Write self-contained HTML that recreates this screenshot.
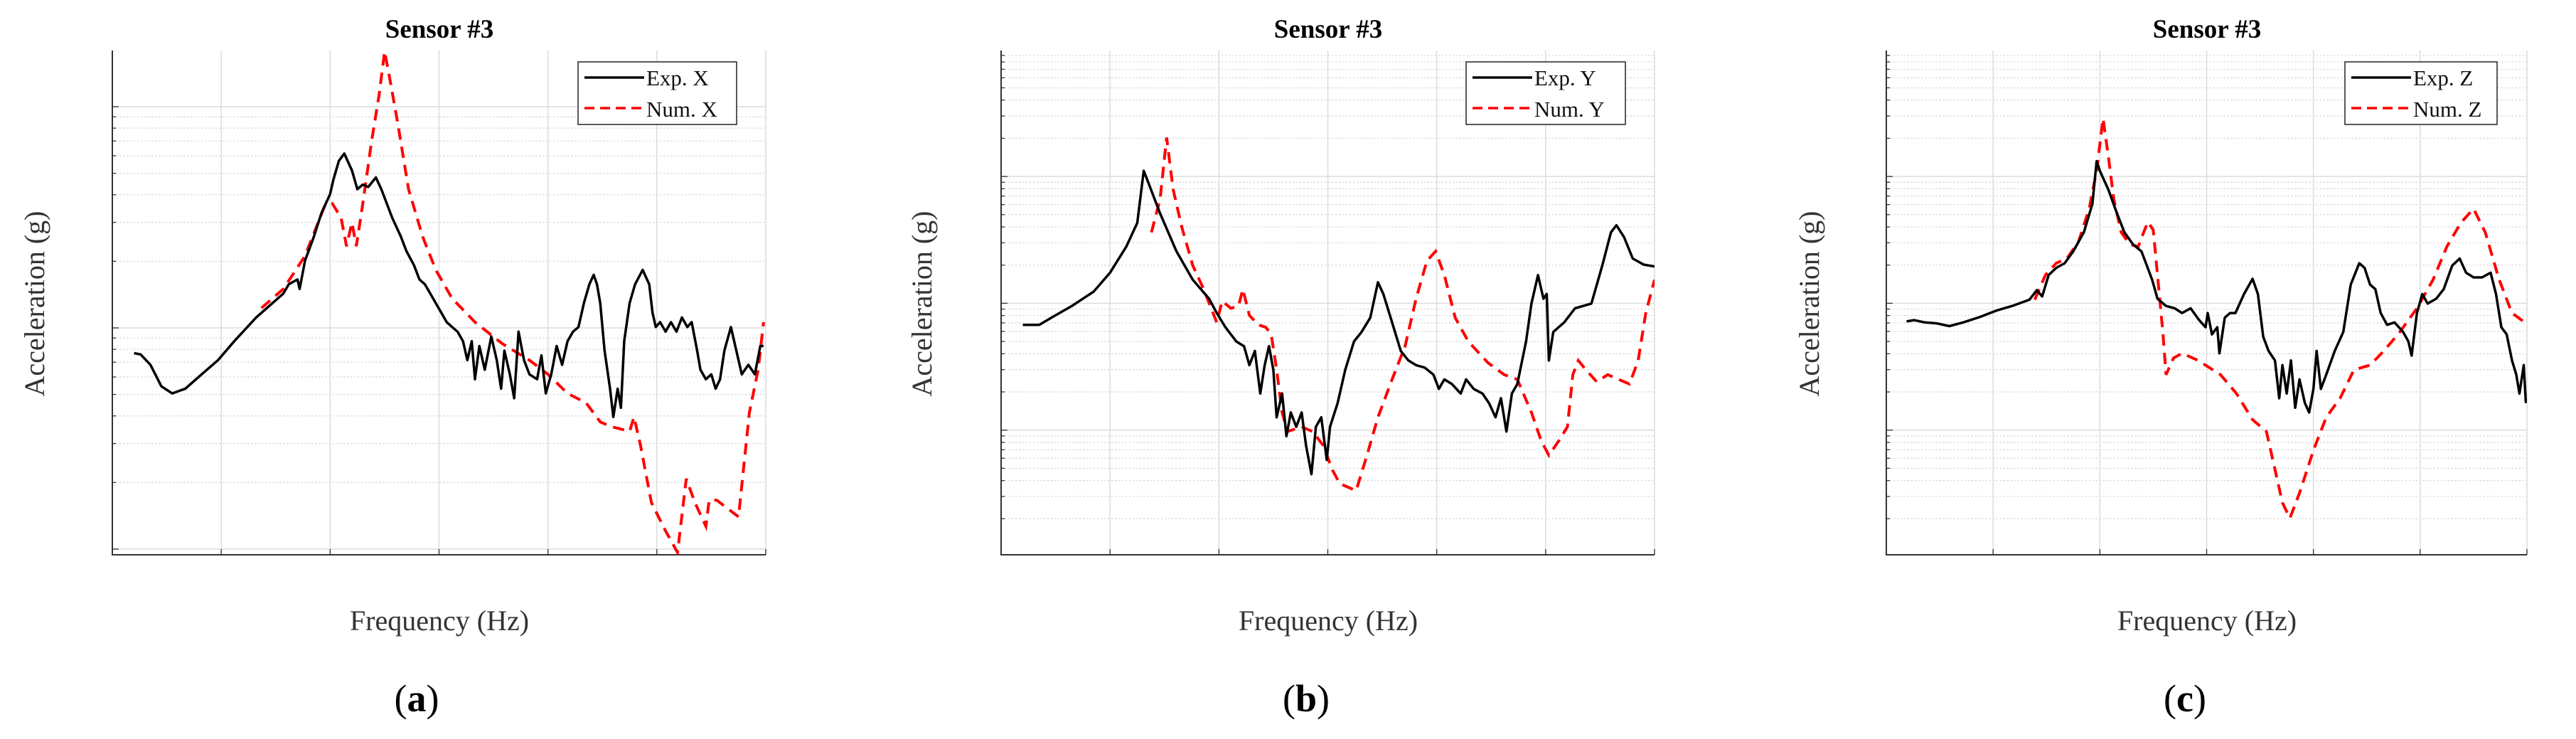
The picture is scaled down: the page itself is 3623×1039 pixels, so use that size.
<!DOCTYPE html>
<html><head><meta charset="utf-8"><style>
html,body{margin:0;padding:0;background:#fff;}
svg{display:block;font-family:"Liberation Serif",serif;}
</style></head><body>
<svg id="fig" width="3623" height="1039" viewBox="0 0 3623 1039" xmlns="http://www.w3.org/2000/svg"></svg>
<script>
// ---- data (x in grid units 0..6, y as log10 amplitude in decades) ----
const expX_f=[.20,.26,.35,.45,.55,.67,.82,.97,1.12,1.32,1.47,1.57,1.62,1.70,1.72,1.77,1.85,1.92,2.00,2.03,2.08,2.13,2.20,2.25,2.30,2.35,2.42,2.47,2.57,2.65,2.70,2.77,2.82,2.87,2.92,2.97,3.02,3.07,3.12,3.17,3.22,3.26,3.30,3.33,3.37,3.42,3.48,3.53,3.57,3.60,3.65,3.69,3.73,3.78,3.83,3.90,3.94,3.98,4.03,4.08,4.13,4.18,4.23,4.28,4.33,4.38,4.42,4.45,4.48,4.52,4.57,4.60,4.64,4.67,4.70,4.75,4.80,4.87,4.93,4.96,4.99,5.03,5.08,5.13,5.18,5.23,5.28,5.32,5.37,5.40,5.45,5.50,5.54,5.58,5.62,5.68,5.73,5.78,5.84,5.90,5.95,5.98];
const expX_a=[.886,.880,.833,.736,.704,.725,.790,.854,.940,1.047,1.112,1.155,1.197,1.219,1.176,1.305,1.412,1.519,1.605,1.670,1.755,1.788,1.712,1.627,1.648,1.637,1.680,1.627,1.498,1.412,1.348,1.283,1.219,1.197,1.155,1.112,1.069,1.026,1.004,.983,.940,.854,.940,.768,.918,.811,.961,.854,.725,.897,.790,.682,.983,.854,.790,.768,.876,.704,.790,.918,.833,.940,.983,1.004,1.112,1.197,1.240,1.197,1.112,.897,.725,.597,.725,.639,.940,1.112,1.197,1.262,1.197,1.069,1.004,1.026,.983,1.026,.983,1.047,1.004,1.026,.897,.811,.768,.790,.725,.768,.897,1.004,.897,.790,.833,.790,.918,.918];
const numX_f=[1.37,1.57,1.77,1.95,2.02,2.10,2.15,2.20,2.24,2.30,2.38,2.45,2.50,2.55,2.62,2.72,2.85,2.97,3.12,3.33,3.58,3.83,4.00,4.18,4.35,4.48,4.58,4.75,4.79,4.85,4.95,5.08,5.19,5.27,5.35,5.45,5.48,5.55,5.75,5.85,5.93,5.98];
const numX_a=[1.090,1.176,1.326,1.552,1.562,1.498,1.369,1.476,1.369,1.562,1.841,2.056,2.25,2.120,1.927,1.627,1.412,1.262,1.133,1.026,.929,.854,.790,.704,.661,.575,.554,.532,.597,.468,.210,.082,-.015,.318,.210,.103,.221,.221,.146,.618,.811,1.026];
const expY_f=[.20,.35,.50,.65,.85,1.00,1.15,1.25,1.31,1.36,1.46,1.61,1.76,1.91,1.98,2.06,2.16,2.23,2.28,2.33,2.38,2.42,2.46,2.50,2.53,2.58,2.62,2.66,2.71,2.76,2.80,2.85,2.89,2.94,2.99,3.02,3.09,3.16,3.24,3.31,3.39,3.46,3.51,3.59,3.67,3.74,3.81,3.89,3.97,4.02,4.07,4.14,4.22,4.27,4.34,4.42,4.48,4.54,4.59,4.64,4.69,4.74,4.82,4.87,4.93,4.98,5.01,5.03,5.07,5.17,5.27,5.42,5.52,5.60,5.65,5.72,5.80,5.90,6.00];
const expY_a=[1.830,1.830,1.905,1.979,2.092,2.241,2.447,2.634,3.045,2.933,2.709,2.410,2.185,2.036,1.923,1.811,1.699,1.662,1.512,1.624,1.288,1.512,1.662,1.475,1.101,1.288,.952,1.139,1.026,1.139,.877,.652,1.026,1.101,.765,1.026,1.213,1.475,1.699,1.774,1.886,2.166,2.073,1.849,1.624,1.549,1.512,1.493,1.437,1.325,1.400,1.363,1.288,1.400,1.325,1.288,1.213,1.101,1.251,.989,1.288,1.363,1.699,1.998,2.222,2.036,2.073,1.549,1.774,1.849,1.961,1.998,2.297,2.559,2.615,2.522,2.353,2.305,2.290];
const numY_f=[1.38,1.46,1.52,1.58,1.66,1.76,1.86,1.98,2.03,2.11,2.18,2.22,2.28,2.36,2.43,2.48,2.53,2.58,2.63,2.76,2.86,2.96,3.04,3.11,3.26,3.36,3.46,3.59,3.71,3.81,3.91,3.99,4.07,4.17,4.29,4.47,4.62,4.74,4.87,4.96,5.03,5.12,5.20,5.25,5.30,5.37,5.47,5.57,5.77,5.85,5.92,6.00];
const numY_a=[2.559,2.821,3.307,2.896,2.597,2.298,2.111,1.849,2.017,1.961,1.979,2.111,1.905,1.830,1.811,1.755,1.475,1.139,.989,1.026,.989,.877,.690,.578,.522,.802,1.101,1.400,1.662,2.036,2.335,2.410,2.222,1.886,1.699,1.531,1.437,1.400,1.139,.914,.802,.914,1.026,1.437,1.549,1.475,1.381,1.437,1.363,1.549,1.923,2.185];
const expZ_f=[.19,.26,.36,.47,.59,.72,.88,1.03,1.18,1.34,1.41,1.46,1.52,1.59,1.67,1.75,1.85,1.93,1.97,2.00,2.08,2.16,2.23,2.31,2.39,2.44,2.49,2.54,2.62,2.70,2.77,2.85,2.93,2.99,3.01,3.05,3.10,3.12,3.17,3.22,3.27,3.35,3.43,3.48,3.53,3.58,3.64,3.68,3.71,3.75,3.79,3.83,3.87,3.92,3.96,4.00,4.03,4.07,4.12,4.20,4.28,4.35,4.43,4.48,4.53,4.58,4.63,4.69,4.76,4.84,4.89,4.92,4.97,5.02,5.07,5.15,5.22,5.30,5.37,5.43,5.50,5.58,5.66,5.71,5.76,5.81,5.86,5.90,5.93,5.97,5.99];
const expZ_a=[1.857,1.867,1.849,1.842,1.820,1.849,1.893,1.942,1.979,2.028,2.103,2.054,2.222,2.279,2.316,2.409,2.559,2.783,3.120,3.045,2.896,2.709,2.559,2.465,2.409,2.297,2.185,2.036,1.979,1.961,1.923,1.961,1.867,1.811,1.923,1.755,1.811,1.606,1.886,1.923,1.923,2.073,2.193,2.073,1.736,1.624,1.549,1.251,1.512,1.288,1.549,1.176,1.400,1.213,1.139,1.325,1.624,1.325,1.437,1.624,1.774,2.148,2.316,2.279,2.148,2.111,1.923,1.830,1.849,1.774,1.699,1.587,1.923,2.073,1.998,2.036,2.111,2.297,2.353,2.241,2.204,2.204,2.241,2.073,1.811,1.755,1.549,1.437,1.288,1.512,1.213];
const numZ_f=[1.39,1.49,1.59,1.69,1.80,1.90,1.97,2.03,2.08,2.13,2.20,2.28,2.36,2.41,2.45,2.50,2.54,2.59,2.62,2.69,2.77,2.92,3.13,3.28,3.43,3.56,3.64,3.71,3.78,3.87,4.00,4.12,4.25,4.38,4.53,4.66,4.81,4.97,5.12,5.25,5.38,5.50,5.61,5.74,5.86,5.98];
const numZ_a=[2.028,2.222,2.316,2.353,2.484,2.746,3.045,3.457,3.158,2.821,2.559,2.465,2.447,2.559,2.641,2.578,2.222,1.774,1.437,1.568,1.606,1.549,1.437,1.288,1.082,.989,.690,.428,.305,.503,.840,1.101,1.251,1.475,1.512,1.624,1.774,1.961,2.185,2.447,2.634,2.746,2.559,2.185,1.923,1.849];
const xTickUnits=[0,1,2,3,4,5,6];

const NS="http://www.w3.org/2000/svg";
const svg=document.getElementById('fig');
function mk(tag,attrs,parent){const e=document.createElementNS(NS,tag);for(const k in attrs)e.setAttribute(k,attrs[k]);(parent||svg).appendChild(e);return e;}

const panels=[
 {id:'a',L:158,R:1077,T:71,B:780,y0:772,dec:311,dmin:-0.026,dmax:2.254,tx:618,ylx:48,lx:813,lw:223,lab:'X',fx:expX_f,fa:expX_a,nx:numX_f,na:numX_a,sub:'(a)',subx:586},
 {id:'b',L:1408,R:2327,T:71,B:780,y0:783,dec:178.3,dmin:0.017,dmax:3.99,tx:1868,ylx:1296,lx:2062,lw:224,lab:'Y',fx:expY_f,fa:expY_a,nx:numY_f,na:numY_a,sub:'(b)',subx:1837},
 {id:'c',L:2653,R:3554,T:71,B:780,y0:783,dec:178.3,dmin:0.017,dmax:3.99,tx:3104,ylx:2544,lx:3298,lw:214,lab:'Z',fx:expZ_f,fa:expZ_a,nx:numZ_f,na:numZ_a,sub:'(c)',subx:3073}
];

panels.forEach(p=>{
 const g=mk('g',{});
 
 
 const xs=u=>p.L+(p.R-p.L)*u/6;
 const ys=d=>p.y0-d*p.dec;
 const cp=mk('clipPath',{id:'clip'+p.id},g);
 mk('rect',{x:p.L,y:p.T,width:p.R-p.L,height:p.B-p.T},cp);
 // grid
 for(let k=Math.floor(p.dmin)-1;k<=Math.ceil(p.dmax);k++){
  for(let m=1;m<10;m++){
   const d=k+Math.log10(m);
   if(d<p.dmin||d>p.dmax)continue;
   const y=ys(d);
   const gl=mk('line',{x1:p.L,x2:p.R,y1:y,y2:y,stroke:m===1?'#dcdcdc':'#cfcfcf','stroke-width':m===1?1.5:1.2,'stroke-dasharray':m===1?'':'2,3'},g);
   
   
   const tk=mk('line',{x1:p.L,x2:p.L+(m===1?9:5),y1:y,y2:y,stroke:'#333','stroke-width':1.3},g);
   
   
  }
 }
 xTickUnits.forEach(u=>{
  const x=xs(u);
  if(u>0){const vl=mk('line',{x1:x,x2:x,y1:p.T,y2:p.B,stroke:'#dcdcdc','stroke-width':1.5},g);
   
   }
  const t=mk('line',{x1:x,x2:x,y1:p.B,y2:p.B-8,stroke:'#333','stroke-width':1.3},g);
  
  
 });
 const ax=mk('path',{d:`M${p.L},${p.T} V${p.B} H${p.R}`,fill:'none',stroke:'#333','stroke-width':2},g);
 
 
 // series
 const pts=(f,a)=>f.map((u,i)=>xs(u).toFixed(1)+','+ys(a[i]).toFixed(1)).join(' ');
 const ne=mk('polyline',{points:pts(p.nx,p.na),fill:'none',stroke:'#ff0000','stroke-width':4,'stroke-dasharray':'16,10','clip-path':'url(#clip'+p.id+')'},g);
 
 
 const ex=mk('polyline',{points:pts(p.fx,p.fa),fill:'none',stroke:'#000','stroke-width':3.5,'stroke-linejoin':'round','clip-path':'url(#clip'+p.id+')'},g);
 
 
 // legend
 const lg=mk('g',{},g);
 
 
 mk('rect',{x:p.lx,y:87,width:p.lw,height:88,fill:'#fff',stroke:'#222','stroke-width':1.5},lg);
 mk('line',{x1:p.lx+9,x2:p.lx+93,y1:109,y2:109,stroke:'#000','stroke-width':3.5},lg);
 mk('line',{x1:p.lx+9,x2:p.lx+93,y1:152,y2:152,stroke:'#ff0000','stroke-width':3.5,'stroke-dasharray':'14,8'},lg);
 const t1=mk('text',{x:p.lx+96,y:120,'font-size':31,fill:'#111'},lg);t1.textContent='Exp. '+p.lab;
 
 
 const t2=mk('text',{x:p.lx+96,y:164,'font-size':31,fill:'#111'},lg);t2.textContent='Num. '+p.lab;
 
 
 // titles
 const tt=mk('text',{x:p.tx,y:53,'font-size':37,'font-weight':'bold','text-anchor':'middle',fill:'#000'},g);tt.textContent='Sensor #3';
 
 
 const yl=mk('text',{x:0,y:0,'font-size':40,'text-anchor':'middle',fill:'#333',transform:`translate(${p.ylx+14},427) rotate(-90)`},g);yl.textContent='Acceleration (g)';
 
 
 const xl=mk('text',{x:p.tx,y:886,'font-size':40,'text-anchor':'middle',fill:'#333'},g);xl.textContent='Frequency (Hz)';
 
 
 const sb=mk('text',{x:p.subx,y:1000,'font-size':54,'text-anchor':'middle',fill:'#000'},g);
 
 
 const ch=p.sub.slice(1,2);
 sb.innerHTML='(<tspan font-weight="bold">'+ch+'</tspan>)';
});
</script>
</body></html>
